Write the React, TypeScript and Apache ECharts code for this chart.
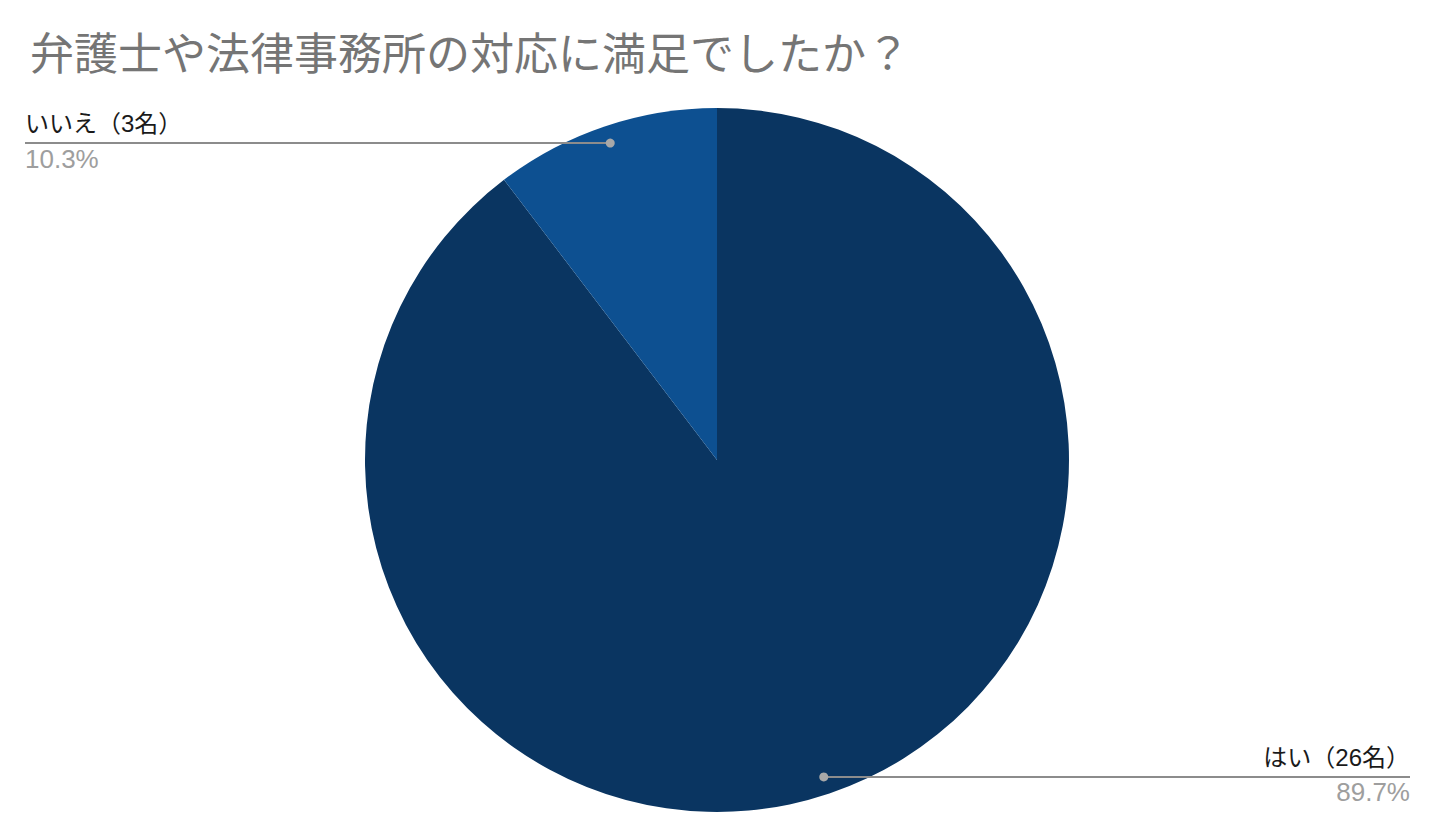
import { useEffect, useRef } from "react";
import * as echarts from "echarts";

const titleText = "弁護士や法律事務所の対応に満足でしたか？";
const answers = ["はい", "いいえ"];
const counts = [26, 3];
const sliceColors = ["#0a3561", "#0d5091"];

const CX = 717;
const CY = 460;
const R = 352;
const DOT_R = R * 0.95;
const EDGE_LEFT = 25;
const EDGE_RIGHT = 1410;
const FONT = "'Liberation Sans', 'Noto Sans CJK JP', sans-serif";

export default function App() {
  const chartRef = useRef<HTMLDivElement>(null);

  useEffect(() => {
    if (!chartRef.current) return;
    const chart = echarts.init(chartRef.current, null, { renderer: "svg" });

    const total = counts.reduce((a, b) => a + b, 0);
    // anchor point of each slice's label line, on its mid angle (clockwise from 12 o'clock)
    let acc = 0;
    const anchors = counts.map(v => {
      const mid = ((acc + v / 2) / total) * Math.PI * 2;
      acc += v;
      return {
        x: CX + DOT_R * Math.sin(mid),
        y: CY - DOT_R * Math.cos(mid),
        right: Math.sin(mid) >= 0
      };
    });

    const option = {
      animation: false,
      backgroundColor: "#ffffff",
      title: {
        text: titleText,
        left: 25,
        top: 24,
        textStyle: {
          fontSize: 44,
          lineHeight: 50,
          color: "#757575",
          fontWeight: "normal",
          fontFamily: FONT
        }
      },
      series: [
        {
          type: "pie",
          center: [CX, CY],
          radius: R,
          startAngle: 90,
          clockwise: true,
          avoidLabelOverlap: false,
          silent: true,
          itemStyle: { borderWidth: 0 },
          data: answers.map((name, i) => ({
            name,
            value: counts[i],
            itemStyle: { color: sliceColors[i] }
          })),
          label: {
            show: true,
            position: "outer",
            alignTo: "edge",
            edgeDistance: 25,
            fontFamily: FONT,
            formatter: (p: any) =>
              `{n|${p.name}（${p.value}名）}\n{p|${((p.value / total) * 100).toFixed(1)}%}`,
            rich: {
              n: { fontSize: 24, lineHeight: 31, color: "#1a1a1a", fontFamily: FONT },
              p: { fontSize: 26, lineHeight: 39, color: "#9e9e9e", fontFamily: FONT }
            }
          },
          labelLine: { show: false },
          labelLayout: (params: any) => {
            const a = anchors[params.dataIndex];
            return {
              x: a.right ? EDGE_RIGHT : EDGE_LEFT,
              y: a.y,
              align: a.right ? "right" : "left",
              verticalAlign: "middle"
            };
          }
        }
      ],
      graphic: [
        ...anchors.map(a => ({
          type: "polyline",
          z: 90,
          silent: true,
          shape: { points: [[a.x, a.y], [a.right ? EDGE_RIGHT : EDGE_LEFT, a.y]] },
          style: { stroke: "#8c8c8c", lineWidth: 2, fill: null }
        })),
        ...anchors.map(a => ({
          type: "circle",
          z: 100,
          silent: true,
          shape: { cx: a.x, cy: a.y, r: 4.5 },
          style: { fill: "#a8a8a8" }
        }))
      ]
    };

    chart.setOption(option);

    return () => {
      chart.dispose();
    };
  }, []);

  return (
    <div
      ref={chartRef}
      style={{ position: "fixed", left: 0, top: 0, width: "1440px", height: "837px", background: "#fff" }}
    />
  );
}
